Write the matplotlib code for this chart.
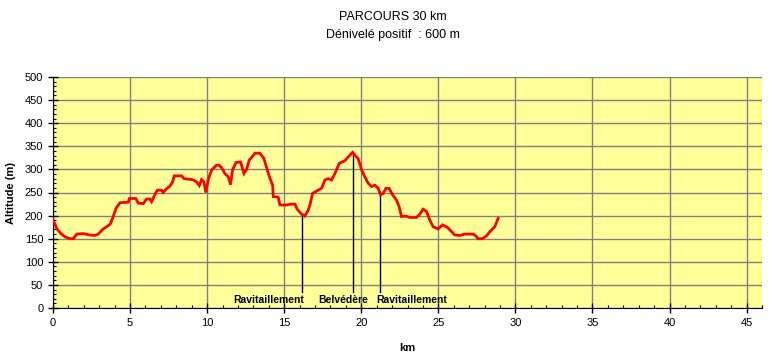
import matplotlib
matplotlib.use("Agg", force=True)
import matplotlib.pyplot as plt
from matplotlib.ticker import MultipleLocator
import numpy as np

# profile (km, altitude in m)
km = [0, 0.24, 0.45, 0.78, 1.1, 1.32, 1.54, 1.97, 2.4, 2.72,
      2.94, 3.22, 3.7, 3.91, 4.09, 4.35, 4.88, 4.95, 5.38, 5.53,
      5.86, 6.07, 6.29, 6.4, 6.6, 6.77, 7.05, 7.15, 7.33, 7.59,
      7.76, 7.87, 8.35, 8.5, 9.0, 9.1, 9.32, 9.49, 9.64, 9.79,
      9.92, 10.07, 10.29, 10.61, 10.77, 10.94, 11.15, 11.37, 11.52, 11.65,
      11.87, 12.17, 12.39, 12.56, 12.73, 12.89, 13.1, 13.42, 13.68, 13.9,
      14.07, 14.25, 14.29, 14.61, 14.72, 15.16, 15.48, 15.69, 15.84, 16.13,
      16.34, 16.56, 16.67, 16.84, 17.2, 17.42, 17.64, 17.85, 18.07, 18.29,
      18.57, 18.94, 19.15, 19.44, 19.58, 19.8, 20.02, 20.23, 20.45, 20.67,
      20.88, 21.1, 21.25, 21.42, 21.6, 21.81, 22.03, 22.28, 22.46, 22.61,
      22.89, 23.15, 23.58, 23.8, 24.01, 24.23, 24.45, 24.66, 24.99, 25.27,
      25.57, 25.75, 26.07, 26.39, 26.72, 27.26, 27.43, 27.58, 27.86, 28.12,
      28.34, 28.66, 28.88]
altitude = [192, 172, 163, 154, 150, 150, 160, 161, 158, 157,
            160, 170, 181, 198, 216, 228, 229, 237, 237, 227,
            226, 236, 236, 230, 245, 255, 255, 250, 257, 264,
            273, 286, 286, 280, 278, 277, 273, 265, 278, 273,
            250, 278, 299, 309, 309, 304, 291, 284, 267, 299,
            315, 316, 291, 300, 320, 326, 335, 335, 324, 299,
            281, 266, 241, 240, 223, 223, 225, 225, 214, 203,
            199, 212, 223, 248, 255, 259, 277, 280, 277, 291,
            313, 319, 327, 337, 331, 323, 299, 284, 270, 263,
            266, 259, 245, 248, 259, 259, 245, 234, 219, 198,
            199, 196, 196, 203, 214, 209, 190, 176, 171, 180,
            175, 169, 158, 157, 160, 160, 156, 150, 150, 156,
            165, 176, 194]

# points of interest along the route
poi_km = [16.17, 19.48, 21.23]
poi_labels = ["Ravitaillement", "Belvédère", "Ravitaillement"]
poi_label_km = [14.0, 18.8, 23.3]

plt.rcParams["font.family"] = ["Liberation Sans", "DejaVu Sans"]

fig = plt.figure(figsize=(7.72, 3.62), dpi=100)
ax = fig.add_axes([53 / 772, 54 / 362, 709 / 772, 231 / 362])
ax.set_facecolor("#FFFF99")

ax.plot(km, altitude, color="#FF0000", lw=2.0, solid_joinstyle="miter", zorder=3)

for x, lab, lx in zip(poi_km, poi_labels, poi_label_km):
    top = np.interp(x, km, altitude)
    ax.plot([x, x], [35, top], color="black", lw=1, zorder=2)
    ax.text(lx, 17, lab, ha="center", va="center", fontsize=7.5, fontweight="bold")

ax.set_xlim(0, 46)
ax.set_ylim(0, 500)
ax.xaxis.set_major_locator(MultipleLocator(5))
ax.xaxis.set_minor_locator(MultipleLocator(1))
ax.yaxis.set_major_locator(MultipleLocator(50))
ax.yaxis.set_minor_locator(MultipleLocator(10))
ax.grid(which="major", color="#808080", lw=1, zorder=1)
ax.set_axisbelow(True)
ax.tick_params(which="major", direction="inout", length=7, width=1, labelsize=8)
ax.tick_params(which="minor", direction="in", length=2.5, width=0.8)
ax.spines["top"].set_visible(False)
ax.spines["right"].set_visible(False)

ax.set_ylabel("Altitude (m)", fontsize=8, fontweight="bold", labelpad=6)
ax.set_xlabel("km", fontsize=8, fontweight="bold", labelpad=11)

fig.text(0.509, 0.952, "PARCOURS 30 km", ha="center", va="center", fontsize=9)
fig.text(0.509, 0.902, "Dénivelé positif  : 600 m", ha="center", va="center", fontsize=9)

fig.savefig("out.png", dpi=100)
